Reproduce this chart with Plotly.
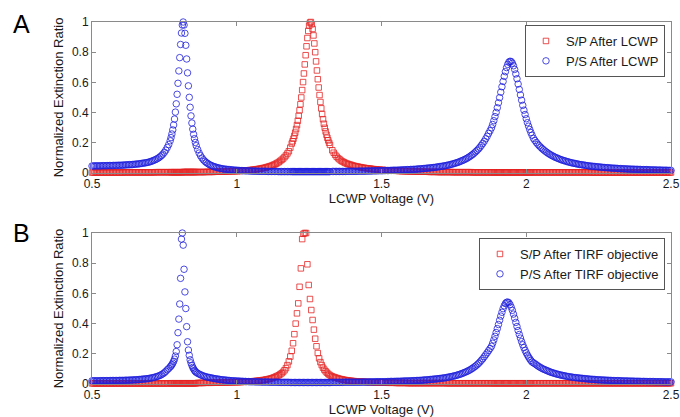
import plotly.graph_objects as go
from plotly.subplots import make_subplots

# LCWP voltage sweep: (start voltage, step) for each stretch of the scan,
# finer steps around the extinction peaks
sweep_a = [(0.50, 0.005), (0.77, 0.003), (0.865, 0.005), (1.19, 0.003), (1.33, 0.005), (1.88, 0.004), (2.025, 0.005)]
sweep_b = [(0.50, 0.005), (0.77, 0.003), (0.865, 0.005), (1.19, 0.0045), (1.33, 0.005), (1.88, 0.004), (2.025, 0.005)]

# panel A, S/P after LCWP (one list per sweep stretch)
sp_lcwp = [
    [0.003, 0.003, 0.003, 0.003, 0.003, 0.003, 0.003, 0.003, 0.003, 0.003,
     0.003, 0.003, 0.003, 0.003, 0.003, 0.003, 0.003, 0.003, 0.003, 0.003,
     0.003, 0.003, 0.004, 0.004, 0.004, 0.004, 0.004, 0.004, 0.004, 0.004,
     0.004, 0.004, 0.004, 0.004, 0.004, 0.004, 0.004, 0.004, 0.004, 0.004,
     0.004, 0.004, 0.004, 0.004, 0.005, 0.005, 0.005, 0.005, 0.005, 0.005,
     0.005, 0.005, 0.005, 0.005],
    [0.005, 0.005, 0.005, 0.005, 0.005, 0.005, 0.005, 0.005, 0.005, 0.005,
     0.005, 0.005, 0.005, 0.005, 0.005, 0.006, 0.006, 0.006, 0.006, 0.006,
     0.006, 0.006, 0.006, 0.006, 0.006, 0.006, 0.006, 0.006, 0.006, 0.006,
     0.006],
    [0.006, 0.006, 0.006, 0.006, 0.006, 0.006, 0.007, 0.007, 0.007, 0.007,
     0.007, 0.007, 0.008, 0.008, 0.008, 0.008, 0.009, 0.009, 0.009, 0.009,
     0.010, 0.010, 0.011, 0.011, 0.011, 0.011, 0.012, 0.012, 0.013, 0.013,
     0.014, 0.015, 0.015, 0.016, 0.017, 0.018, 0.019, 0.020, 0.021, 0.022,
     0.024, 0.025, 0.027, 0.028, 0.030, 0.032, 0.034, 0.036, 0.039, 0.042,
     0.045, 0.048, 0.052, 0.056, 0.061, 0.066, 0.072, 0.079, 0.087, 0.095,
     0.105, 0.116, 0.129, 0.144, 0.168],
    [0.195, 0.210, 0.227, 0.246, 0.267, 0.291, 0.317, 0.346, 0.379, 0.415,
     0.455, 0.500, 0.549, 0.602, 0.659, 0.719, 0.780, 0.839, 0.894, 0.941,
     0.976, 0.996, 1.000, 0.985, 0.954, 0.911, 0.858, 0.800, 0.739, 0.679,
     0.621, 0.566, 0.516, 0.470, 0.428, 0.390, 0.356, 0.326, 0.299, 0.275,
     0.253, 0.233, 0.216, 0.200, 0.186],
    [0.150, 0.134, 0.120, 0.108, 0.098, 0.090, 0.082, 0.076, 0.071, 0.066,
     0.062, 0.059, 0.056, 0.053, 0.050, 0.047, 0.045, 0.043, 0.041, 0.039,
     0.037, 0.035, 0.034, 0.032, 0.031, 0.030, 0.029, 0.027, 0.026, 0.025,
     0.024, 0.023, 0.022, 0.021, 0.020, 0.020, 0.019, 0.018, 0.017, 0.017,
     0.016, 0.016, 0.015, 0.015, 0.014, 0.014, 0.013, 0.013, 0.012, 0.012,
     0.012, 0.011, 0.011, 0.011, 0.010, 0.010, 0.010, 0.010, 0.009, 0.009,
     0.009, 0.009, 0.008, 0.008, 0.008, 0.008, 0.008, 0.007, 0.007, 0.007,
     0.007, 0.007, 0.007, 0.006, 0.006, 0.006, 0.006, 0.006, 0.006, 0.006,
     0.006, 0.006, 0.006, 0.005, 0.005, 0.005, 0.005, 0.005, 0.005, 0.005,
     0.005, 0.005, 0.005, 0.005, 0.005, 0.005, 0.005, 0.004, 0.004, 0.004,
     0.004, 0.004, 0.004, 0.004, 0.004, 0.004, 0.004, 0.004, 0.004, 0.004],
    [0.004, 0.004, 0.004, 0.004, 0.004, 0.004, 0.004, 0.004, 0.004, 0.004,
     0.004, 0.004, 0.004, 0.004, 0.004, 0.004, 0.004, 0.004, 0.004, 0.004,
     0.004, 0.004, 0.004, 0.004, 0.004, 0.004, 0.004, 0.004, 0.004, 0.004,
     0.004, 0.004, 0.004, 0.004, 0.004, 0.004],
    [0.004, 0.004, 0.004, 0.004, 0.004, 0.004, 0.004, 0.004, 0.004, 0.004,
     0.004, 0.004, 0.004, 0.004, 0.004, 0.004, 0.004, 0.004, 0.004, 0.004,
     0.004, 0.004, 0.004, 0.004, 0.004, 0.004, 0.004, 0.004, 0.004, 0.004,
     0.004, 0.004, 0.004, 0.004, 0.004, 0.004, 0.004, 0.004, 0.004, 0.004,
     0.003, 0.003, 0.003, 0.003, 0.003, 0.003, 0.003, 0.003, 0.003, 0.003,
     0.003, 0.003, 0.003, 0.003, 0.003, 0.003, 0.003, 0.003, 0.003, 0.003,
     0.003, 0.003, 0.003, 0.003, 0.003, 0.003, 0.003, 0.003, 0.003, 0.003,
     0.003, 0.003, 0.003, 0.003, 0.003, 0.003, 0.003, 0.003, 0.003, 0.003,
     0.003, 0.003, 0.003, 0.003, 0.003, 0.003, 0.003, 0.003, 0.003, 0.003,
     0.003, 0.003, 0.003, 0.003, 0.003, 0.003],
]

# panel A, P/S after LCWP
ps_lcwp = [
    [0.046, 0.046, 0.047, 0.047, 0.047, 0.047, 0.047, 0.048, 0.048, 0.048,
     0.048, 0.049, 0.049, 0.049, 0.049, 0.050, 0.050, 0.050, 0.051, 0.051,
     0.051, 0.052, 0.052, 0.053, 0.054, 0.054, 0.055, 0.055, 0.056, 0.057,
     0.058, 0.059, 0.060, 0.061, 0.063, 0.064, 0.066, 0.067, 0.069, 0.071,
     0.074, 0.077, 0.081, 0.085, 0.089, 0.094, 0.100, 0.107, 0.115, 0.125,
     0.137, 0.151, 0.169, 0.188],
    [0.213, 0.234, 0.258, 0.285, 0.318, 0.357, 0.403, 0.458, 0.521, 0.594,
     0.676, 0.764, 0.851, 0.927, 0.980, 1.000, 0.980, 0.925, 0.846, 0.755,
     0.663, 0.577, 0.501, 0.435, 0.378, 0.331, 0.290, 0.256, 0.227, 0.202,
     0.181],
    [0.155, 0.132, 0.114, 0.099, 0.087, 0.077, 0.069, 0.062, 0.056, 0.051,
     0.047, 0.043, 0.040, 0.037, 0.034, 0.032, 0.030, 0.028, 0.026, 0.025,
     0.024, 0.023, 0.022, 0.021, 0.020, 0.019, 0.018, 0.018, 0.017, 0.016,
     0.016, 0.015, 0.015, 0.014, 0.014, 0.014, 0.013, 0.013, 0.012, 0.012,
     0.012, 0.012, 0.011, 0.011, 0.011, 0.011, 0.011, 0.011, 0.010, 0.010,
     0.010, 0.010, 0.010, 0.010, 0.010, 0.010, 0.009, 0.009, 0.009, 0.009,
     0.009, 0.009, 0.009, 0.009, 0.009],
    [0.009, 0.009, 0.009, 0.009, 0.009, 0.009, 0.009, 0.009, 0.009, 0.009,
     0.009, 0.009, 0.009, 0.009, 0.009, 0.009, 0.009, 0.009, 0.009, 0.009,
     0.009, 0.009, 0.009, 0.009, 0.009, 0.009, 0.009, 0.009, 0.009, 0.009,
     0.009, 0.009, 0.009, 0.009, 0.009, 0.009, 0.009, 0.009, 0.009, 0.009,
     0.009, 0.009, 0.009, 0.009, 0.009],
    [0.010, 0.010, 0.010, 0.010, 0.010, 0.010, 0.010, 0.010, 0.010, 0.010,
     0.011, 0.011, 0.011, 0.011, 0.011, 0.011, 0.011, 0.011, 0.012, 0.012,
     0.012, 0.012, 0.012, 0.012, 0.013, 0.013, 0.013, 0.013, 0.014, 0.014,
     0.014, 0.014, 0.015, 0.015, 0.015, 0.015, 0.016, 0.016, 0.016, 0.016,
     0.017, 0.017, 0.018, 0.018, 0.018, 0.018, 0.019, 0.019, 0.020, 0.020,
     0.021, 0.021, 0.022, 0.022, 0.023, 0.023, 0.024, 0.024, 0.025, 0.026,
     0.027, 0.027, 0.028, 0.029, 0.030, 0.031, 0.032, 0.033, 0.034, 0.035,
     0.036, 0.037, 0.039, 0.040, 0.042, 0.043, 0.045, 0.046, 0.048, 0.050,
     0.052, 0.054, 0.057, 0.059, 0.062, 0.065, 0.068, 0.071, 0.075, 0.079,
     0.083, 0.087, 0.092, 0.097, 0.103, 0.109, 0.116, 0.123, 0.131, 0.140,
     0.149, 0.159, 0.170, 0.183, 0.196, 0.210, 0.226, 0.243, 0.262, 0.280],
    [0.299, 0.321, 0.346, 0.373, 0.401, 0.432, 0.465, 0.499, 0.535, 0.571,
     0.606, 0.640, 0.671, 0.698, 0.719, 0.734, 0.740, 0.738, 0.727, 0.710,
     0.686, 0.656, 0.624, 0.589, 0.553, 0.517, 0.482, 0.448, 0.416, 0.387,
     0.359, 0.333, 0.310, 0.288, 0.268, 0.250],
    [0.229, 0.215, 0.202, 0.190, 0.180, 0.170, 0.161, 0.153, 0.145, 0.138,
     0.131, 0.125, 0.119, 0.114, 0.109, 0.104, 0.100, 0.096, 0.092, 0.088,
     0.085, 0.082, 0.079, 0.076, 0.073, 0.071, 0.068, 0.066, 0.064, 0.062,
     0.060, 0.058, 0.056, 0.055, 0.053, 0.052, 0.050, 0.049, 0.047, 0.046,
     0.045, 0.044, 0.043, 0.042, 0.041, 0.040, 0.039, 0.038, 0.037, 0.036,
     0.035, 0.035, 0.034, 0.033, 0.032, 0.032, 0.031, 0.031, 0.030, 0.029,
     0.029, 0.028, 0.028, 0.027, 0.027, 0.026, 0.026, 0.025, 0.025, 0.025,
     0.024, 0.024, 0.024, 0.023, 0.023, 0.022, 0.022, 0.022, 0.022, 0.021,
     0.021, 0.020, 0.020, 0.020, 0.020, 0.019, 0.019, 0.019, 0.019, 0.018,
     0.018, 0.018, 0.018, 0.017, 0.017, 0.017],
]

# panel B, S/P after TIRF objective
sp_tirf = [
    [0.004, 0.004, 0.004, 0.004, 0.004, 0.004, 0.004, 0.004, 0.004, 0.004,
     0.004, 0.004, 0.004, 0.004, 0.004, 0.004, 0.004, 0.004, 0.004, 0.004,
     0.004, 0.004, 0.004, 0.004, 0.004, 0.004, 0.004, 0.004, 0.004, 0.004,
     0.004, 0.004, 0.004, 0.004, 0.004, 0.004, 0.004, 0.004, 0.004, 0.004,
     0.004, 0.004, 0.004, 0.004, 0.004, 0.004, 0.004, 0.004, 0.004, 0.004,
     0.004, 0.004, 0.004, 0.004],
    [0.005, 0.005, 0.005, 0.005, 0.005, 0.005, 0.005, 0.005, 0.005, 0.005,
     0.005, 0.005, 0.005, 0.005, 0.005, 0.005, 0.005, 0.005, 0.005, 0.005,
     0.005, 0.005, 0.005, 0.005, 0.005, 0.005, 0.005, 0.005, 0.005, 0.005,
     0.005],
    [0.007, 0.007, 0.007, 0.007, 0.007, 0.008, 0.008, 0.008, 0.008, 0.008,
     0.008, 0.009, 0.009, 0.009, 0.009, 0.009, 0.009, 0.010, 0.010, 0.010,
     0.010, 0.011, 0.011, 0.011, 0.011, 0.012, 0.012, 0.012, 0.012, 0.013,
     0.013, 0.014, 0.014, 0.015, 0.015, 0.016, 0.016, 0.017, 0.018, 0.019,
     0.020, 0.021, 0.022, 0.023, 0.024, 0.026, 0.027, 0.029, 0.031, 0.033,
     0.035, 0.038, 0.041, 0.045, 0.049, 0.053, 0.058, 0.064, 0.071, 0.080,
     0.091, 0.105, 0.125, 0.150, 0.182],
    [0.220, 0.270, 0.330, 0.400, 0.468, 0.534, 0.644, 0.766, 0.960, 0.995,
     1.000, 1.000, 0.793, 0.656, 0.563, 0.490, 0.424, 0.360, 0.300, 0.250,
     0.205, 0.170, 0.145, 0.125, 0.108, 0.095, 0.084, 0.075, 0.067, 0.060,
     0.054],
    [0.050, 0.046, 0.043, 0.040, 0.037, 0.034, 0.032, 0.030, 0.028, 0.026,
     0.025, 0.023, 0.022, 0.021, 0.020, 0.019, 0.018, 0.017, 0.016, 0.016,
     0.015, 0.015, 0.014, 0.014, 0.013, 0.013, 0.012, 0.012, 0.011, 0.011,
     0.010, 0.010, 0.010, 0.010, 0.009, 0.009, 0.009, 0.009, 0.008, 0.008,
     0.008, 0.008, 0.008, 0.008, 0.007, 0.007, 0.007, 0.007, 0.007, 0.007,
     0.007, 0.007, 0.006, 0.006, 0.006, 0.006, 0.006, 0.006, 0.006, 0.006,
     0.006, 0.006, 0.006, 0.006, 0.006, 0.006, 0.006, 0.006, 0.006, 0.006,
     0.006, 0.006, 0.006, 0.006, 0.006, 0.006, 0.006, 0.006, 0.006, 0.005,
     0.005, 0.005, 0.005, 0.005, 0.005, 0.005, 0.005, 0.005, 0.005, 0.005,
     0.005, 0.005, 0.005, 0.005, 0.005, 0.005, 0.005, 0.005, 0.005, 0.005,
     0.005, 0.005, 0.005, 0.005, 0.005, 0.005, 0.005, 0.005, 0.005, 0.005],
    [0.005, 0.005, 0.005, 0.005, 0.005, 0.005, 0.005, 0.005, 0.005, 0.005,
     0.005, 0.005, 0.005, 0.005, 0.005, 0.005, 0.005, 0.005, 0.005, 0.005,
     0.005, 0.005, 0.005, 0.005, 0.005, 0.005, 0.005, 0.005, 0.005, 0.005,
     0.005, 0.005, 0.005, 0.005, 0.005, 0.005],
    [0.005, 0.005, 0.005, 0.005, 0.005, 0.005, 0.005, 0.005, 0.005, 0.005,
     0.005, 0.005, 0.005, 0.005, 0.005, 0.005, 0.005, 0.005, 0.005, 0.005,
     0.005, 0.005, 0.005, 0.005, 0.005, 0.005, 0.005, 0.005, 0.005, 0.005,
     0.005, 0.005, 0.005, 0.005, 0.005, 0.005, 0.005, 0.005, 0.005, 0.005,
     0.005, 0.005, 0.005, 0.005, 0.005, 0.005, 0.005, 0.005, 0.005, 0.005,
     0.005, 0.005, 0.005, 0.005, 0.005, 0.005, 0.005, 0.005, 0.005, 0.005,
     0.005, 0.005, 0.005, 0.005, 0.005, 0.005, 0.005, 0.005, 0.005, 0.005,
     0.005, 0.005, 0.005, 0.005, 0.005, 0.005, 0.005, 0.005, 0.005, 0.005,
     0.005, 0.005, 0.005, 0.005, 0.005, 0.005, 0.005, 0.005, 0.005, 0.005,
     0.005, 0.005, 0.005, 0.005, 0.005, 0.005],
]

# panel B, P/S after TIRF objective
ps_tirf = [
    [0.021, 0.021, 0.021, 0.021, 0.021, 0.021, 0.022, 0.022, 0.022, 0.022,
     0.022, 0.022, 0.022, 0.023, 0.023, 0.023, 0.023, 0.023, 0.023, 0.024,
     0.024, 0.024, 0.024, 0.025, 0.025, 0.025, 0.026, 0.026, 0.027, 0.027,
     0.028, 0.028, 0.029, 0.030, 0.031, 0.032, 0.033, 0.034, 0.035, 0.036,
     0.038, 0.040, 0.042, 0.044, 0.047, 0.050, 0.053, 0.057, 0.062, 0.068,
     0.075, 0.084, 0.094, 0.103],
    [0.113, 0.120, 0.128, 0.138, 0.150, 0.165, 0.185, 0.215, 0.260, 0.340,
     0.430, 0.530, 0.700, 0.960, 1.000, 0.920, 0.760, 0.610, 0.500, 0.380,
     0.280, 0.225, 0.190, 0.160, 0.140, 0.124, 0.110, 0.100, 0.090, 0.083,
     0.077],
    [0.071, 0.066, 0.061, 0.057, 0.053, 0.050, 0.047, 0.045, 0.043, 0.041,
     0.039, 0.037, 0.035, 0.034, 0.032, 0.031, 0.029, 0.028, 0.027, 0.026,
     0.025, 0.024, 0.023, 0.022, 0.021, 0.021, 0.020, 0.020, 0.019, 0.019,
     0.018, 0.018, 0.017, 0.017, 0.016, 0.016, 0.015, 0.015, 0.015, 0.015,
     0.014, 0.014, 0.014, 0.014, 0.013, 0.013, 0.013, 0.013, 0.013, 0.013,
     0.012, 0.012, 0.012, 0.012, 0.012, 0.012, 0.011, 0.011, 0.011, 0.011,
     0.011, 0.011, 0.011, 0.011, 0.010],
    [0.010, 0.010, 0.010, 0.010, 0.010, 0.010, 0.010, 0.010, 0.010, 0.010,
     0.010, 0.010, 0.010, 0.010, 0.010, 0.010, 0.010, 0.010, 0.010, 0.010,
     0.010, 0.010, 0.010, 0.010, 0.010, 0.010, 0.010, 0.010, 0.010, 0.010,
     0.010],
    [0.011, 0.011, 0.011, 0.011, 0.011, 0.011, 0.011, 0.011, 0.012, 0.012,
     0.012, 0.012, 0.012, 0.012, 0.012, 0.012, 0.012, 0.012, 0.012, 0.012,
     0.012, 0.013, 0.013, 0.013, 0.013, 0.013, 0.014, 0.014, 0.014, 0.014,
     0.015, 0.015, 0.015, 0.015, 0.015, 0.015, 0.015, 0.015, 0.016, 0.016,
     0.017, 0.017, 0.017, 0.017, 0.018, 0.018, 0.018, 0.018, 0.019, 0.019,
     0.020, 0.020, 0.020, 0.020, 0.021, 0.021, 0.022, 0.022, 0.023, 0.023,
     0.024, 0.024, 0.025, 0.026, 0.027, 0.027, 0.028, 0.029, 0.030, 0.031,
     0.032, 0.033, 0.034, 0.035, 0.036, 0.037, 0.039, 0.040, 0.041, 0.043,
     0.045, 0.047, 0.049, 0.051, 0.053, 0.055, 0.058, 0.061, 0.064, 0.067,
     0.071, 0.075, 0.079, 0.083, 0.088, 0.093, 0.099, 0.105, 0.112, 0.119,
     0.127, 0.136, 0.146, 0.157, 0.168, 0.181, 0.194, 0.207, 0.221, 0.235],
    [0.250, 0.270, 0.292, 0.316, 0.341, 0.367, 0.394, 0.422, 0.450, 0.475,
     0.499, 0.518, 0.533, 0.541, 0.543, 0.538, 0.526, 0.509, 0.488, 0.463,
     0.436, 0.408, 0.381, 0.354, 0.328, 0.304, 0.281, 0.260, 0.241, 0.223,
     0.207, 0.192, 0.179, 0.167, 0.156, 0.146],
    [0.140, 0.134, 0.127, 0.120, 0.114, 0.108, 0.103, 0.098, 0.094, 0.090,
     0.086, 0.082, 0.078, 0.075, 0.072, 0.069, 0.066, 0.064, 0.061, 0.059,
     0.057, 0.055, 0.053, 0.051, 0.049, 0.048, 0.046, 0.045, 0.043, 0.042,
     0.041, 0.040, 0.039, 0.038, 0.037, 0.036, 0.035, 0.034, 0.033, 0.032,
     0.031, 0.031, 0.030, 0.029, 0.028, 0.028, 0.027, 0.027, 0.026, 0.026,
     0.025, 0.025, 0.024, 0.024, 0.023, 0.023, 0.022, 0.022, 0.022, 0.022,
     0.021, 0.021, 0.020, 0.020, 0.020, 0.020, 0.019, 0.019, 0.019, 0.019,
     0.018, 0.018, 0.018, 0.018, 0.017, 0.017, 0.017, 0.017, 0.016, 0.016,
     0.016, 0.016, 0.016, 0.016, 0.015, 0.015, 0.015, 0.015, 0.015, 0.015,
     0.014, 0.014, 0.014, 0.014, 0.014, 0.014],
]

x_ticks = [0.5, 1, 1.5, 2, 2.5]
y_ticks = [0, 0.2, 0.4, 0.6, 0.8, 1]

RED = 'rgb(228,35,35)'
BLUE = 'rgb(30,30,220)'
FONT = 'Liberation Sans, Arial, sans-serif'


def unroll(sweep, segments):
    # turn (start, step) stretches + readings into flat voltage / ratio lists
    volts, vals = [], []
    for (v0, dv), seg in zip(sweep, segments):
        volts += [round(v0 + dv * i, 4) for i in range(len(seg))]
        vals += seg
    return volts, vals


fig = make_subplots(rows=2, cols=1)

panels = [
    (1, sweep_a, sp_lcwp, ps_lcwp, 'S/P After LCWP', 'P/S After LCWP', 'legend'),
    (2, sweep_b, sp_tirf, ps_tirf, 'S/P After TIRF objective', 'P/S After TIRF objective', 'legend2'),
]
for row, sweep, sp, ps, sp_name, ps_name, leg in panels:
    x, y = unroll(sweep, sp)
    fig.add_trace(go.Scatter(
        x=x, y=y, mode='markers', name=sp_name, legend=leg, cliponaxis=False,
        marker=dict(symbol='square-open', size=5.5, color=RED, line=dict(width=0.8, color=RED)),
    ), row=row, col=1)
    x, y = unroll(sweep, ps)
    fig.add_trace(go.Scatter(
        x=x, y=y, mode='markers', name=ps_name, legend=leg, cliponaxis=False,
        marker=dict(symbol='circle-open', size=6.5, color=BLUE, line=dict(width=0.8, color=BLUE)),
    ), row=row, col=1)

axis_style = dict(
    showline=True, linecolor='#8a8a8a', linewidth=1, mirror='ticks',
    ticks='inside', ticklen=4, tickcolor='#8a8a8a', tickwidth=1, automargin=False,
    showgrid=False, zeroline=False, tickfont=dict(size=12, color='#1a1a1a'),
)
for row in (1, 2):
    fig.update_xaxes(
        range=[0.5, 2.5], tickvals=x_ticks, ticktext=['0.5', '1', '1.5', '2', '2.5'],
        title=dict(text='LCWP Voltage (V)', font=dict(size=13, color='#1a1a1a'), standoff=0),
        row=row, col=1, **axis_style)
    fig.update_yaxes(
        range=[0, 1], tickvals=y_ticks, ticktext=['0', '0.2', '0.4', '0.6', '0.8', '1'],
        title=dict(text='Normalized Extinction Ratio', font=dict(size=13, color='#1a1a1a'), standoff=5),
        row=row, col=1, **axis_style)

# plot area spans x 92..671 px, y 22..384 px; paper coords below are relative to it
fig.update_layout(
    width=680, height=417,
    margin=dict(l=92, r=9, t=22, b=33, autoexpand=False),
    paper_bgcolor='white', plot_bgcolor='white',
    font=dict(family=FONT, size=12, color='#1a1a1a'),
    xaxis=dict(domain=[0, 1]), xaxis2=dict(domain=[0, 1]),
    yaxis=dict(domain=[0.583, 1]), yaxis2=dict(domain=[0, 0.417]),
    legend=dict(x=0.9896, y=0.9917, xanchor='right', yanchor='top',
                bgcolor='white', bordercolor='#555', borderwidth=1,
                font=dict(size=13), tracegroupgap=0),
    legend2=dict(x=0.9896, y=0.4033, xanchor='right', yanchor='top',
                 bgcolor='white', bordercolor='#555', borderwidth=1,
                 font=dict(size=13), tracegroupgap=0),
    showlegend=True,
    annotations=[
        dict(text='A', x=-0.1226, y=0.9945, xref='paper', yref='paper', showarrow=False,
             font=dict(size=25, color='black'), xanchor='center', yanchor='middle'),
        dict(text='B', x=-0.1226, y=0.4171, xref='paper', yref='paper', showarrow=False,
             font=dict(size=25, color='black'), xanchor='center', yanchor='middle'),
    ],
)

# drop the browser's default 8px body margin so the figure sits at the page corner
fig.write_html("out.html", config={'displayModeBar': False},
               post_script="document.body.style.margin = '0';")
